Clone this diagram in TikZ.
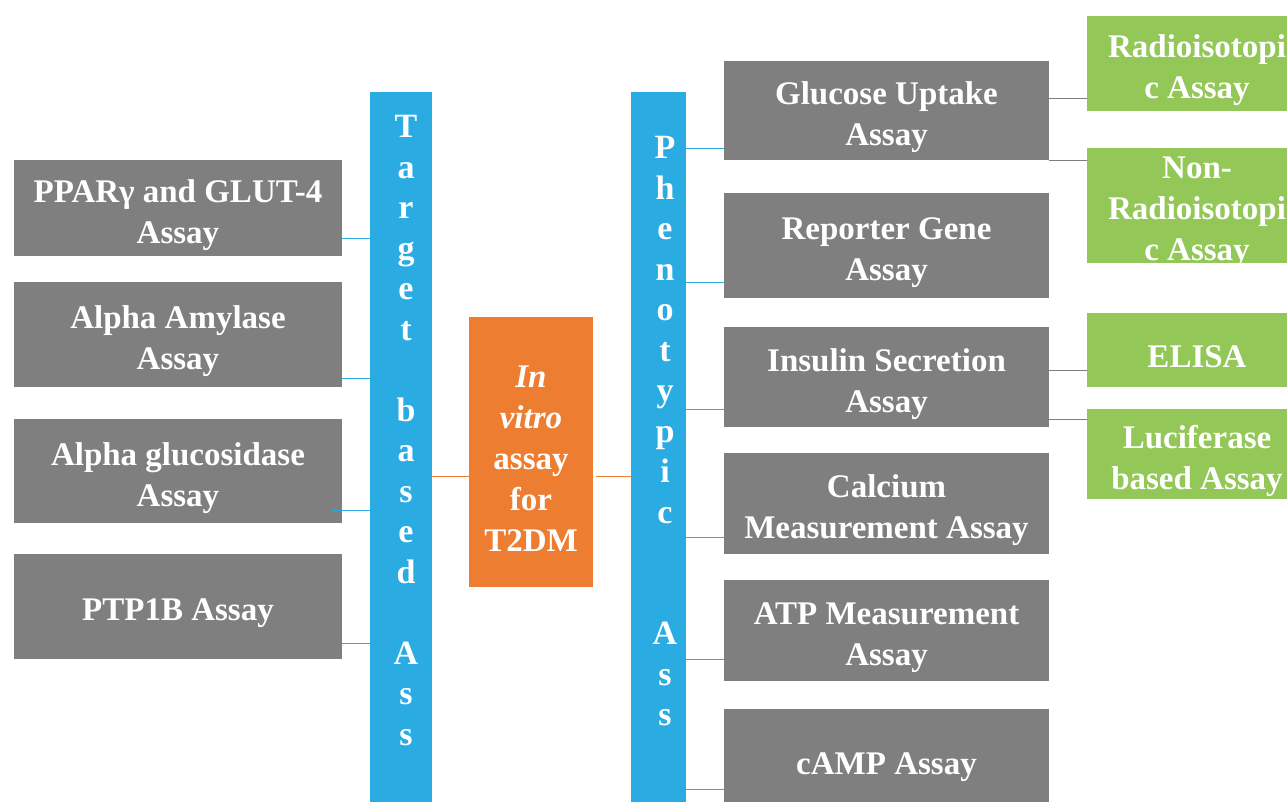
\documentclass[tikz,border=0pt]{standalone}
\usepackage{fontspec}
\setmainfont{Liberation Serif}
\definecolor{assaygray}{HTML}{7F7F7F}
\definecolor{assayblue}{HTML}{2AABE2}
\definecolor{assayorange}{HTML}{ED7D31}
\definecolor{assaygreen}{HTML}{93C757}
\tikzset{assay/.style={rectangle,fill=assaygray,inner sep=0pt},
 method/.style={assay,fill=assaygreen},
 branch/.style={rectangle,fill=assayblue,inner sep=0pt},
 hub/.style={rectangle,fill=assayorange,inner sep=0pt},
 boxtext/.style={text=white,font=\fontsize{33}{41}\selectfont\bfseries,
 align=center,inner sep=0pt},
 bartext/.style={text=white,font=\fontsize{34}{40.5}\selectfont\bfseries,
 align=center,inner sep=0pt,anchor=north},
 bluelink/.style={draw=assayblue,line width=1pt},
 graylink/.style={draw=assaygray,line width=1pt},
 orangelink/.style={draw=assayorange,line width=1pt}}
\newcommand{\assaybox}[6]{%
 \node[#2,minimum width=#4,minimum height=#5] (#1) at (#3) {};
 \node[boxtext] (#1text) at ([yshift=-7pt]#1.center) {#6};}

\begin{document}
\begin{tikzpicture}[x=1pt,y=-1pt]
 \useasboundingbox (0,0) rectangle (1287,802);
 \fill[white] (0,0) rectangle (1287,802);
 \clip (0,0) rectangle (1287,802);
 % target based side
 \assaybox{ppar}{assay}{178,208}{328pt}{96pt}{PPARγ and GLUT-4\\Assay}
 \assaybox{amy}{assay}{178,334.5}{328pt}{105pt}{Alpha Amylase\\Assay}
 \assaybox{glu}{assay}{178,471}{328pt}{104pt}{Alpha glucosidase\\Assay}
 \assaybox{ptp}{assay}{178,606.5}{328pt}{105pt}{PTP1B Assay}
 \node[branch,minimum width=62pt,minimum height=740pt] (tba) at (401,462) {};
 \node[bartext] (tbatext) at (406,115.5)
  {T\\a\\r\\g\\e\\t\\\mbox{}\\b\\a\\s\\e\\d\\\mbox{}\\A\\s\\s};
 % centre
 \assaybox{t2dm}{hub}{531,452}{124pt}{270pt}
  {\textit{In}\\\textit{vitro}\\assay\\for\\T2DM}
 % phenotypic side
 \node[branch,minimum width=55pt,minimum height=740pt] (pa) at (658.5,462) {};
 \node[bartext] (patext) at (665,136.5)
  {P\\h\\e\\n\\o\\t\\y\\p\\i\\c\\\mbox{}\\\mbox{}\\A\\s\\s};
 \assaybox{gu}{assay}{886.5,110.5}{325pt}{99pt}{Glucose Uptake\\Assay}
 \assaybox{rg}{assay}{886.5,245.5}{325pt}{105pt}{Reporter Gene\\Assay}
 \assaybox{ins}{assay}{886.5,377}{325pt}{100pt}{Insulin Secretion\\Assay}
 \assaybox{ca}{assay}{886.5,503.5}{325pt}{101pt}{Calcium\\Measurement Assay}
 \assaybox{atp}{assay}{886.5,630.5}{325pt}{101pt}{ATP Measurement\\Assay}
 \assaybox{camp}{assay}{886.5,760.5}{325pt}{103pt}{cAMP Assay}
 % methods
 \assaybox{rad}{method}{1197,63.5}{220pt}{95pt}{Radioisotopi\\c Assay}
 \assaybox{non}{method}{1197,205.5}{220pt}{115pt}{Non-\\Radioisotopi\\c Assay}
 \assaybox{elisa}{method}{1197,350}{220pt}{74pt}{ELISA}
 \assaybox{luc}{method}{1197,454}{220pt}{90pt}{Luciferase\\based Assay}
 % connectors
 \foreach \a/\h in {ppar/18,amy/9,ptp/16}
  \draw[bluelink] ([yshift=\h pt]\a.south east) -- ([yshift=\h pt]\a.south east -| tba.west);
 \draw[bluelink] ([xshift=-10pt,yshift=13pt]glu.south east) -- ([yshift=13pt]glu.south east -| tba.west);
 \foreach \a/\h in {gu/12,rg/16,ins/18,ca/17,atp/22,camp/23}
  \draw[bluelink] ([yshift=\h pt]\a.south west) -- ([yshift=\h pt]\a.south west -| pa.east);
 \draw[orangelink] ([yshift=-24pt]t2dm.west) -- ([yshift=-24pt]t2dm.west -| tba.east);
 \draw[orangelink] ([xshift=3pt,yshift=-24pt]t2dm.east) -- ([yshift=-24pt]t2dm.east -| pa.west);
 \draw[graylink] ([yshift=11.5pt]gu.east) -- ([yshift=11.5pt]gu.east -| rad.west);
 \draw[graylink] (gu.south east) -- (gu.south east -| non.west);
 \draw[graylink] ([yshift=7pt]ins.east) -- ([yshift=7pt]ins.east -| elisa.west);
 \draw[graylink] ([yshift=8pt]ins.south east) -- ([yshift=8pt]ins.south east -| luc.west);
\end{tikzpicture}
\end{document}
